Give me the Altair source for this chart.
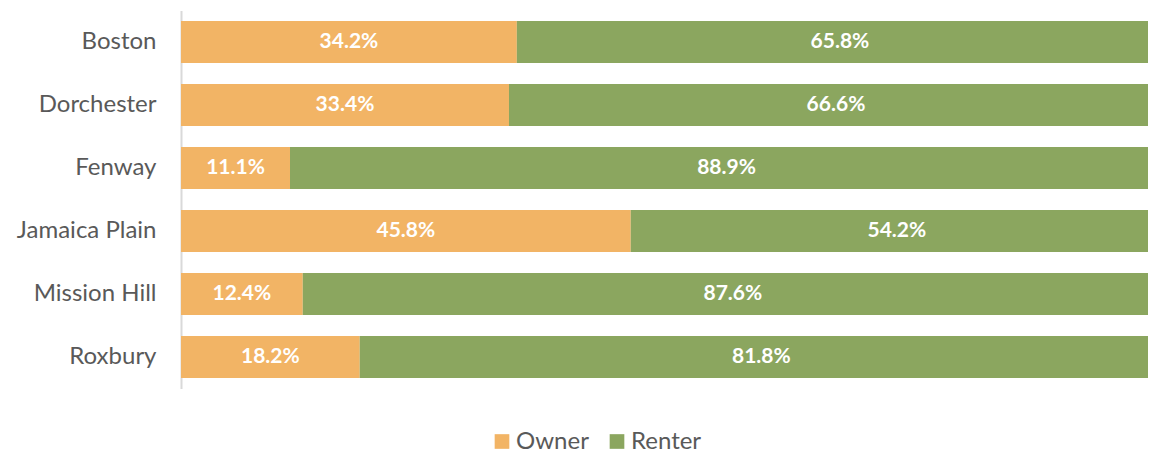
import altair as alt
import pandas as pd

cities = ["Boston", "Dorchester", "Fenway", "Jamaica Plain", "Mission Hill", "Roxbury"]
owner = [34.2, 33.4, 11.1, 45.8, 12.4, 18.2]
renter = [65.8, 66.6, 88.9, 54.2, 87.6, 81.8]
series = ["Owner", "Renter"]
colors = ["#F2B465", "#8BA65F"]

rows = []
for c, o, r in zip(cities, owner, renter):
    rows.append({"city": c, "tenure": "Owner", "value": o, "order": 0})
    rows.append({"city": c, "tenure": "Renter", "value": r, "order": 1})
df = pd.DataFrame(rows)

FONT = "Lato"
W = 967
FULL = 982

base = alt.Chart(df).transform_stack(
    stack="value", groupby=["city"], as_=["x0", "x1"], sort=[{"field": "order", "order": "ascending"}]
).transform_calculate(
    mid="(datum.x0 + datum.x1) / 2",
    lbl="format(datum.value, '.1f') + '%'"
)

y = alt.Y("city:N", sort=cities, title=None,
          scale=alt.Scale(paddingInner=1/3, paddingOuter=1/6),
          axis=alt.Axis(labelFont=FONT, labelFontSize=24, labelColor="#595959",
                        labelPadding=25, ticks=False, domainColor="#D9D9D9",
                        domainWidth=2, labelLimit=300))

xs = alt.Scale(domain=[0, 100 * W / FULL], nice=False, zero=True)

bars = base.mark_bar(clip=True).encode(
    x=alt.X("x0:Q", scale=xs, axis=None),
    x2="x1:Q",
    y=y,
    color=alt.Color("tenure:N", scale=alt.Scale(domain=series, range=colors),
                    legend=alt.Legend(title=None, orient="none", direction="horizontal",
                                      legendX=309, legendY=419, padding=0,
                                      symbolType="square", symbolSize=215,
                                      symbolStrokeWidth=0, labelFont=FONT,
                                      labelFontSize=24, labelColor="#595959",
                                      columnPadding=16, labelOffset=2)),
)

texts = base.mark_text(color="white", fontWeight="bold", font=FONT, fontSize=21).encode(
    x=alt.X("mid:Q", scale=xs),
    y=alt.Y("city:N", sort=cities),
    text="lbl:N",
)

chart = (bars + texts).properties(
    width=W, height=378,
    autosize=alt.AutoSizeParams(type="none"),
    padding={"left": 173, "top": 2.5, "right": 0, "bottom": 65},
).configure_view(stroke=None)

chart.save("out.html", embed_options={"renderer": "svg", "actions": False})
